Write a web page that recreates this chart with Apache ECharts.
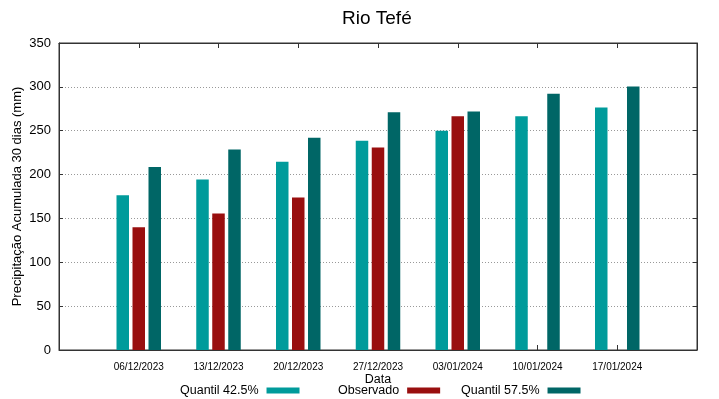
<!DOCTYPE html>
<html>
<head>
<meta charset="utf-8">
<script src="https://cdn.jsdelivr.net/npm/echarts@6/dist/echarts.min.js"></script>
<style>
  html, body { margin: 0; padding: 0; background: #fff; }
  #main { width: 719px; height: 399px; }
</style>
</head>
<body>
<div id="main"></div>
<script>
const dates = ['06/12/2023', '13/12/2023', '20/12/2023', '27/12/2023', '03/01/2024', '10/01/2024', '17/01/2024'];
const quantil425 = [176.5, 194.5, 214.5, 238.5, 250, 266.5, 276.5];
const observado = [140, 155.5, 174, 231, 266.5, null, null];
const quantil575 = [208.5, 228.5, 242, 271, 272, 292, 300.5];
const yTicks = [0, 50, 100, 150, 200, 250, 300, 350];

// pad one empty slot on each side so the bars sit away from the frame
const pad = arr => [null].concat(arr, [null]);
const xCats = [''].concat(dates, ['']);

const FONT = 'Liberation Sans';
const colors = ['#009b9b', '#990f0f', '#006666'];

const chart = echarts.init(document.getElementById('main'));

function legendAt(left, name) {
  return {
    left: left, top: 379,
    align: 'right',
    itemWidth: 33, itemHeight: 6,
    icon: 'rect',
    data: [name],
    textStyle: { fontFamily: FONT, fontSize: 12.5, color: '#000', padding: [0, 3, 0, 0] },
    selectedMode: false
  };
}

const option = {
  animation: false,
  title: {
    text: 'Rio Tefé',
    left: 337, top: 4,
    textStyle: { fontFamily: FONT, fontSize: 19, fontWeight: 'normal', color: '#000' }
  },
  legend: [
    legendAt(175, 'Quantil 42.5%'),
    legendAt(333, 'Observado'),
    legendAt(456, 'Quantil 57.5%')
  ],
  grid: {
    left: 59, right: 22, top: 43, bottom: 49,
    outerBoundsMode: 'none',
    show: true, borderColor: '#333', borderWidth: 1
  },
  xAxis: [{
    type: 'category',
    data: xCats,
    boundaryGap: false,
    name: 'Data',
    nameLocation: 'middle',
    nameGap: 23,
    nameMoveOverlap: false,
    nameTextStyle: { fontFamily: FONT, fontSize: 12.5, color: '#000' },
    axisLine: { onZero: false, lineStyle: { color: '#333' } },
    axisTick: { inside: true, length: 5, lineStyle: { color: '#333' } },
    axisLabel: { interval: 0, fontFamily: FONT, fontSize: 10, color: '#000', margin: 12 },
    splitLine: { show: false }
  }, {
    type: 'category',
    data: xCats,
    boundaryGap: false,
    position: 'top',
    axisLine: { onZero: false, lineStyle: { color: '#333' } },
    axisTick: { inside: true, length: 5, lineStyle: { color: '#333' } },
    axisLabel: { show: false }
  }],
  yAxis: [{
    type: 'value',
    min: 0, max: 350, interval: 50,
    name: 'Precipitação Acumulada 30 dias (mm)',
    nameLocation: 'middle',
    nameGap: 35,
    nameMoveOverlap: false,
    nameTextStyle: { fontFamily: FONT, fontSize: 13, color: '#000' },
    axisLine: { show: true, lineStyle: { color: '#333' } },
    axisTick: { show: true, inside: true, length: 4, lineStyle: { color: '#333' } },
    axisLabel: {
      fontFamily: FONT, fontSize: 13, color: '#000', margin: 8,
      formatter: v => yTicks.indexOf(v) >= 0 ? String(v) : ''
    },
    splitLine: { show: true, lineStyle: { color: '#999', type: [1, 2], width: 1 } }
  }, {
    type: 'value',
    min: 0, max: 350, interval: 50,
    position: 'right',
    axisLine: { show: true, lineStyle: { color: '#333' } },
    axisTick: { show: true, inside: true, length: 4, lineStyle: { color: '#333' } },
    axisLabel: { show: false },
    splitLine: { show: false }
  }],
  series: [{
    name: 'Quantil 42.5%',
    type: 'bar',
    data: pad(quantil425),
    barWidth: 12.5,
    barGap: '28%',
    itemStyle: { color: colors[0] }
  }, {
    name: 'Observado',
    type: 'bar',
    data: pad(observado),
    barWidth: 12.5,
    barGap: '28%',
    itemStyle: { color: colors[1] }
  }, {
    name: 'Quantil 57.5%',
    type: 'bar',
    data: pad(quantil575),
    barWidth: 12.5,
    barGap: '28%',
    itemStyle: { color: colors[2] }
  }]
};

chart.setOption(option);
</script>
</body>
</html>
